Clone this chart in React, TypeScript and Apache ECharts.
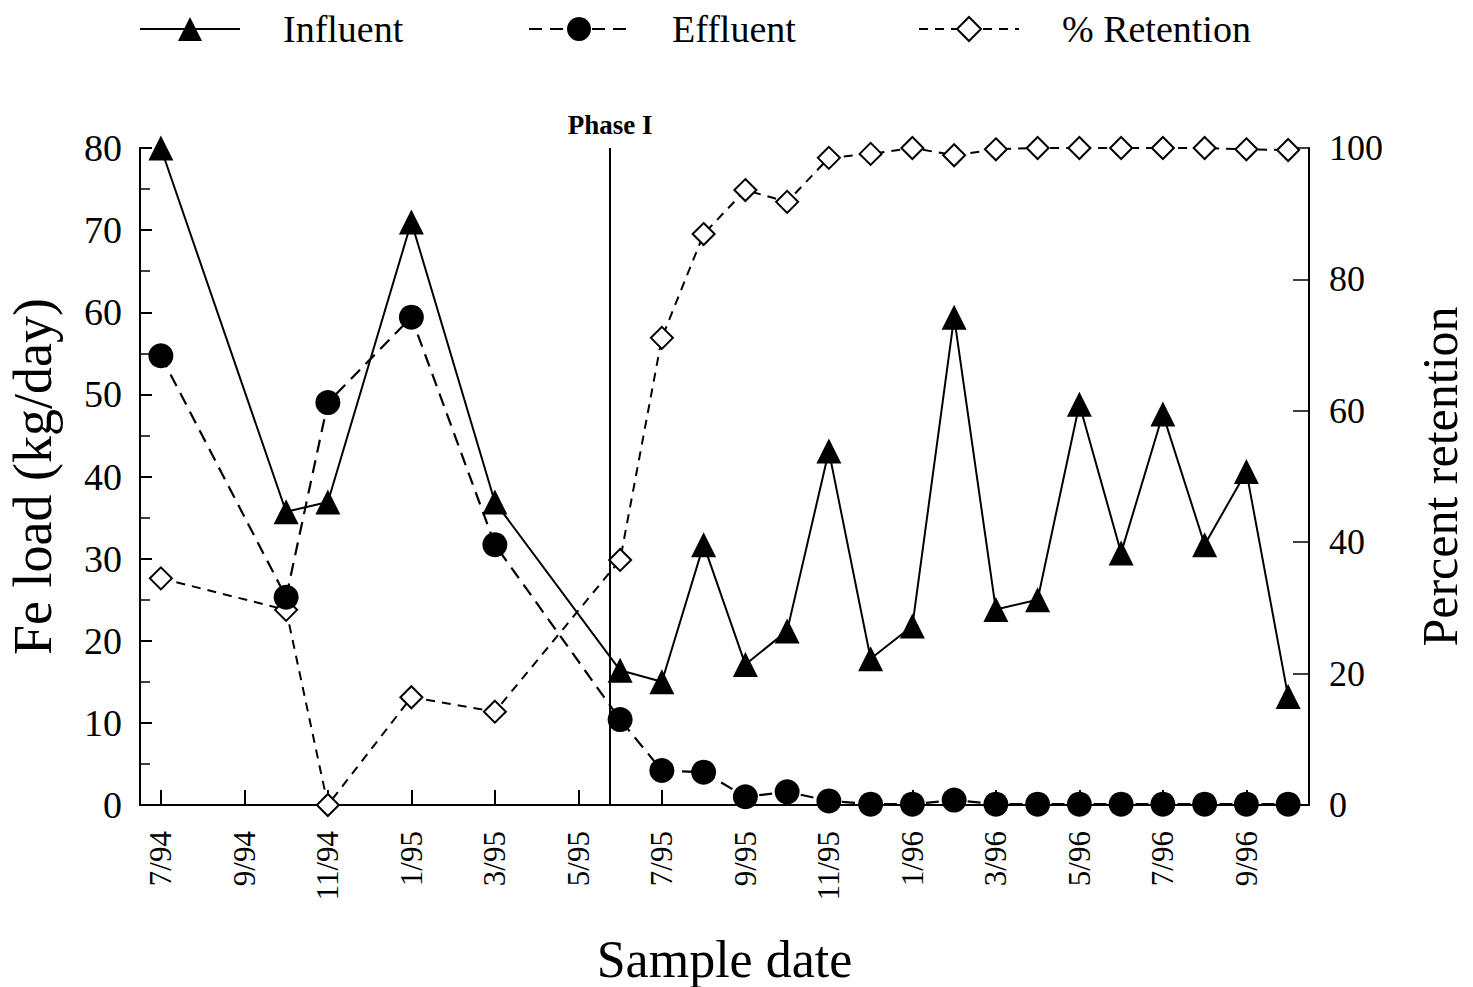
import React, { useEffect, useRef } from "react";
import * as echarts from "echarts";

const months = [
  "7/94", "8/94", "9/94", "10/94", "11/94", "12/94",
  "1/95", "2/95", "3/95", "4/95", "5/95", "6/95", "7/95", "8/95", "9/95", "10/95", "11/95", "12/95",
  "1/96", "2/96", "3/96", "4/96", "5/96", "6/96", "7/96", "8/96", "9/96", "10/96",
];

const influent = [
  80, null, null, 35.7, 36.9, null,
  71.0, null, 36.9, null, null, 16.4, 15.0, 31.7, 17.1, 21.2, 43.1, 17.8,
  21.8, 59.4, 23.8, 25.0, 48.8, 30.7, 47.6, 31.7, 40.6, 13.2,
];

const effluent = [
  54.7, null, null, 25.3, 49.0, null,
  59.4, null, 31.7, null, null, 10.4, 4.2, 4.0, 1.0, 1.6, 0.5, 0.1,
  0.1, 0.6, 0.1, 0.1, 0.1, 0.1, 0.1, 0.1, 0.1, 0.1,
];

const retention = [
  34.5, null, null, 29.7, 0, null,
  16.4, null, 14.2, null, null, 37.3, 71.1, 86.9, 93.6, 91.8, 98.5, 99.1,
  100, 98.9, 99.8, 100, 100, 100, 100, 100, 99.8, 99.7,
];

// position of the Phase I boundary, in months counted from the left edge of the 7/94 band
const phaseBoundaryMonths = 11.26;
const phaseLabel = "Phase I";

const FONT = "'Liberation Serif', 'Times New Roman', Times, serif";

export default function App() {
  const ref = useRef<HTMLDivElement>(null);

  useEffect(() => {
    if (!ref.current) return;
    const chart = echarts.init(ref.current, undefined, { renderer: "svg" });

    const legendBase = {
      orient: "horizontal",
      top: 10,
      padding: 0,
      itemWidth: 100,
      itemHeight: 30,
      selectedMode: false,
      textStyle: {
        fontFamily: FONT,
        fontSize: 38,
        color: "#000",
        padding: [0, 0, 0, 38],
      },
    };

    const option: any = {
      animation: false,
      backgroundColor: "#fff",
      textStyle: { fontFamily: FONT, color: "#000" },
      legend: [
        { ...legendBase, left: 139, data: ["Influent"] },
        { ...legendBase, left: 528, data: ["Effluent"] },
        { ...legendBase, left: 918, data: ["% Retention"] },
      ],
      grid: { left: 140, right: 164, top: 148, bottom: 182, containLabel: false, outerBoundsMode: "none" },
      xAxis: [
        {
          type: "category",
          data: months,
          boundaryGap: true,
          position: "bottom",
          name: "Sample date",
          nameLocation: "middle",
          nameGap: 128,
          nameTextStyle: { fontFamily: FONT, fontSize: 52, color: "#000" },
          axisLine: { show: true, lineStyle: { color: "#000", width: 2 } },
          axisTick: { show: true, inside: true, length: 15, interval: 1, alignWithLabel: true, lineStyle: { color: "#000", width: 2 } },
          axisLabel: { interval: 1, rotate: 90, margin: 26, fontFamily: FONT, fontSize: 31, color: "#000" },
          splitLine: { show: false },
        },
        {
          type: "category",
          data: months,
          boundaryGap: true,
          position: "top",
          axisLine: { show: true, lineStyle: { color: "#000", width: 1.5, type: [2, 3] } },
          axisTick: { show: false },
          axisLabel: { show: false },
          splitLine: { show: false },
        },
        {
          type: "value",
          min: 0,
          max: months.length,
          show: false,
          position: "bottom",
          splitLine: { show: false },
        },
      ],
      yAxis: [
        {
          type: "value",
          min: 0,
          max: 80,
          interval: 10,
          position: "left",
          name: "Fe load (kg/day)",
          nameLocation: "middle",
          nameGap: 80,
          nameRotate: 90,
          nameTextStyle: { fontFamily: FONT, fontSize: 54, color: "#000" },
          axisLine: { show: true, lineStyle: { color: "#000", width: 2 } },
          axisTick: { show: true, inside: true, length: 12, lineStyle: { color: "#000", width: 2 } },
          minorTick: { show: true, splitNumber: 2, length: 10, lineStyle: { color: "#000", width: 1.5 } },
          axisLabel: { margin: 18, fontFamily: FONT, fontSize: 38, color: "#000" },
          splitLine: { show: false },
        },
        {
          type: "value",
          min: 0,
          max: 100,
          interval: 20,
          position: "right",
          name: "Percent retention",
          nameLocation: "middle",
          nameGap: 106,
          nameRotate: 90,
          nameTextStyle: { fontFamily: FONT, fontSize: 50, color: "#000" },
          axisLine: { show: true, lineStyle: { color: "#000", width: 2 } },
          axisTick: { show: true, inside: true, length: 16, lineStyle: { color: "#000", width: 1.5 } },
          axisLabel: { margin: 20, fontFamily: FONT, fontSize: 36, color: "#000" },
          splitLine: { show: false },
        },
      ],
      series: [
        {
          name: "% Retention",
          type: "line",
          xAxisIndex: 0,
          yAxisIndex: 1,
          data: retention,
          connectNulls: true,
          symbol: "emptyDiamond",
          symbolSize: 22,
          color: "#000",
          lineStyle: { color: "#000", width: 2, type: [9, 7] },
          itemStyle: { color: "#000", borderColor: "#000", borderWidth: 2 },
          z: 2,
        },
        {
          name: "Effluent",
          type: "line",
          xAxisIndex: 0,
          yAxisIndex: 0,
          data: effluent,
          connectNulls: true,
          symbol: "circle",
          symbolSize: 25,
          color: "#000",
          lineStyle: { color: "#000", width: 2.2, type: [13, 8] },
          itemStyle: { color: "#000" },
          z: 3,
        },
        {
          name: "Influent",
          type: "line",
          xAxisIndex: 0,
          yAxisIndex: 0,
          data: influent,
          connectNulls: true,
          symbol: "triangle",
          symbolSize: 25,
          color: "#000",
          lineStyle: { color: "#000", width: 2 },
          itemStyle: { color: "#000" },
          z: 4,
        },
        {
          name: "phase",
          type: "line",
          xAxisIndex: 2,
          yAxisIndex: 0,
          data: [],
          z: 1,
          markLine: {
            silent: true,
            symbol: "none",
            animation: false,
            lineStyle: { color: "#000", width: 2, type: "solid" },
            label: {
              show: true,
              position: "end",
              formatter: phaseLabel,
              fontFamily: FONT,
              fontSize: 27,
              fontWeight: "bold",
              color: "#000",
              distance: 10,
            },
            data: [{ xAxis: phaseBoundaryMonths }],
          },
        },
      ],
    };

    chart.setOption(option);
    return () => chart.dispose();
  }, []);

  return (
    <div
      ref={ref}
      style={{ position: "absolute", left: 0, top: 0, width: 1473, height: 987, background: "#fff" }}
    />
  );
}
